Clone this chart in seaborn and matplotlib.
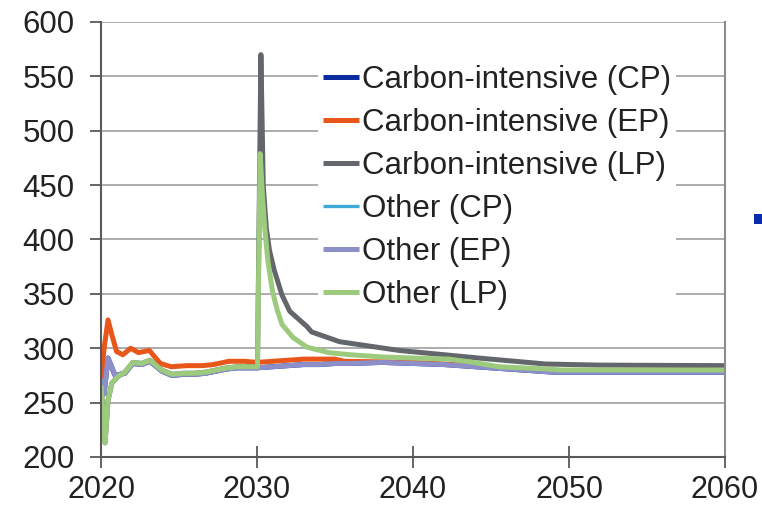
import matplotlib
matplotlib.use("Agg")
import matplotlib.pyplot as plt
import pandas as pd
import seaborn as sns
from matplotlib.patches import Rectangle

# ---- series data (year, index value) ----
base_years = [2020.0, 2020.13, 2020.26, 2020.45, 2020.7, 2021.09, 2021.53, 2022.04,
              2022.62, 2023.13, 2023.9, 2024.54, 2025.3, 2026.0, 2026.7, 2027.4,
              2028.1, 2028.8, 2029.5, 2030.03]
base_values = [266, 240, 213, 252, 268, 274, 278, 287, 286, 289, 280, 276, 277, 277,
               278, 280, 282, 283, 283, 283]

other_lp_years = [2030.2, 2030.35, 2030.5, 2030.7, 2031.0, 2031.3, 2031.6, 2032.3,
                  2033.2, 2034.6, 2036.0, 2038.0, 2040.0, 2042.3, 2043.9, 2045.5,
                  2047.0, 2048.5, 2049.5, 2060.0]
other_lp_values = [479, 440, 410, 380, 352, 335, 322, 310, 301, 296, 294, 292, 291,
                   290, 287, 283, 282, 281, 280, 280]

ci_lp_years = [2030.25, 2030.4, 2030.6, 2030.8, 2031.1, 2031.6, 2032.1, 2033.2, 2033.5,
               2035.3, 2039.1, 2044.2, 2048.5, 2051.9, 2060.0]
ci_lp_values = [570, 450, 410, 390, 372, 349, 334, 320, 315, 306, 298, 291, 285.5,
                284.5, 284]

other_ep_years = [2020.0, 2020.2, 2020.45, 2020.9, 2021.53, 2022.04, 2022.62, 2023.13,
                  2023.9, 2024.54, 2025.3, 2026.0, 2026.7, 2027.4, 2028.1, 2028.8,
                  2029.5, 2030.0, 2031.0, 2032.0, 2033.0, 2034.0, 2035.0, 2036.0,
                  2038.0, 2040.0, 2042.0, 2044.0, 2046.0, 2048.0, 2049.0, 2060.0]
other_ep_values = [272, 258, 291, 275, 277, 286, 285, 288, 279, 275, 276, 276, 277, 279,
                   281, 282, 282, 282, 283, 284, 285, 285, 286, 286, 287, 286, 285, 283,
                   281, 279, 278, 278]

ci_ep_years = [2020.0, 2020.2, 2020.45, 2020.7, 2021.0, 2021.4, 2021.9, 2022.4, 2023.1,
               2023.8, 2024.5, 2025.5, 2026.5, 2027.2, 2028.2, 2029.2, 2030.0, 2031.0,
               2032.0, 2033.0, 2034.0, 2035.0, 2035.6, 2040.0, 2044.0, 2048.0, 2050.0,
               2060.0]
ci_ep_values = [271, 300, 326, 312, 297, 294, 300, 296, 298, 286, 283, 284, 284, 285,
                288, 288, 287, 288, 289, 290, 290, 290, 288, 287, 284, 280, 279, 279]

labels = ["Carbon-intensive (CP)", "Carbon-intensive (EP)", "Carbon-intensive (LP)",
          "Other (CP)", "Other (EP)", "Other (LP)"]
colors = ["#0B2C9E", "#E8561A", "#63666A", "#3FA9D8", "#8C8FC8", "#9CCB7D"]
widths = [3.6, 3.6, 3.6, 2.4, 3.6, 3.6]

series = {
    "Carbon-intensive (CP)": (other_ep_years, other_ep_values),
    "Carbon-intensive (EP)": (ci_ep_years, ci_ep_values),
    "Carbon-intensive (LP)": (base_years + ci_lp_years, base_values + ci_lp_values),
    "Other (CP)": (other_ep_years, other_ep_values),
    "Other (EP)": (other_ep_years, other_ep_values),
    "Other (LP)": (base_years + other_lp_years, base_values + other_lp_values),
}

frames = []
for name in labels:
    yrs, vals = series[name]
    frames.append(pd.DataFrame({"year": yrs, "value": vals, "series": name}))
df = pd.concat(frames, ignore_index=True)

sns.set_theme(style="white")
plt.rcParams["font.family"] = ["Liberation Sans", "DejaVu Sans"]

fig = plt.figure(figsize=(7.62, 5.08), dpi=100)
ax = fig.add_axes([101 / 762, 1 - 457 / 508, 624 / 762, 435 / 508])

for name, col, lw in zip(labels, colors, widths):
    sns.lineplot(data=df[df["series"] == name], x="year", y="value", color=col,
                 linewidth=lw, label=name, estimator=None, sort=False, ax=ax,
                 solid_joinstyle="round", solid_capstyle="butt")

ax.set_xlim(2020, 2060)
ax.set_ylim(200, 600)
ax.set_xticks(range(2020, 2061, 10))
ax.set_yticks(range(200, 601, 50))
ax.set_xlabel("")
ax.set_ylabel("")

ax.grid(axis="y", color="#A6A6A6", linewidth=1.3)
ax.set_axisbelow(True)
for side in ["left", "bottom"]:
    ax.spines[side].set_color("#595959")
    ax.spines[side].set_linewidth(1.5)
ax.spines["right"].set_color("#8C8C8C")
ax.spines["right"].set_linewidth(1.5)
ax.spines["top"].set_visible(False)

ax.tick_params(axis="y", direction="out", length=8, width=1.3, color="#595959",
               labelsize=22.5, labelcolor="#222222", pad=11, left=True)
ax.tick_params(axis="x", direction="inout", length=16, width=1.3, color="#595959",
               labelsize=22, labelcolor="#222222", pad=5, bottom=True)

leg = ax.legend(loc="upper left", bbox_to_anchor=(318 / 762, 1 - 60 / 508),
                bbox_transform=fig.transFigure, frameon=True, fancybox=False,
                facecolor="white", edgecolor="none", framealpha=1.0, fontsize=22.5,
                handlelength=1.15, handletextpad=0.1, labelspacing=0.42,
                borderpad=0.15, borderaxespad=0)
for text in leg.get_texts():
    text.set_color("#222222")

# small marker square at the right edge
fig.add_artist(Rectangle((754 / 762, 1 - 224 / 508), 8 / 762, 10 / 508,
                         transform=fig.transFigure, facecolor="#0B2CA8",
                         edgecolor="none"))

fig.savefig("out.png", dpi=100)
